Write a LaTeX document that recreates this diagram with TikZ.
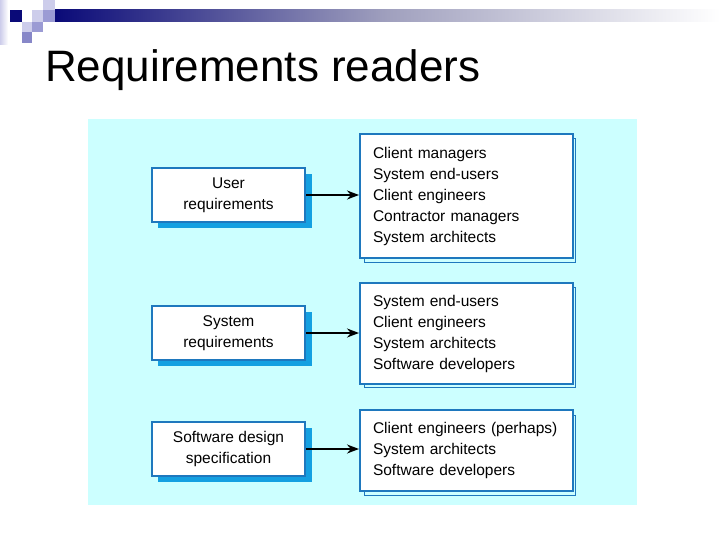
\documentclass[tikz,border=0pt]{standalone}
\usepackage{fontspec}
\setmainfont{Liberation Sans}
\usetikzlibrary{arrows.meta}
\definecolor{panel}{RGB}{204,255,255}
\definecolor{bordblue}{RGB}{30,120,190}
\definecolor{shadblue}{RGB}{20,160,225}
\definecolor{navy}{RGB}{10,10,120}
\definecolor{lightlav}{RGB}{205,205,235}
\definecolor{medlav}{RGB}{155,155,212}
\definecolor{darklav}{RGB}{135,135,200}
\tikzset{
  docbox/.style={draw=bordblue, line width=2pt, fill=white, minimum width=153pt, minimum height=54pt,
    align=center, font=\fontsize{15.5}{21}\selectfont, inner sep=0pt},
  readbox/.style={draw=bordblue, line width=2pt, fill=white, minimum width=213pt,
    align=left, text width=187pt, inner xsep=13pt, inner ysep=0pt, font=\fontsize{15.5}{21}\selectfont},
  flow/.style={line width=1.8pt, -{Stealth[open, length=12pt, width=9pt]}}
}
\begin{document}
\begin{tikzpicture}[x=1pt,y=-1pt]
\useasboundingbox (0,0) rectangle (720,540);
% header decoration
\shade[left color=navy, right color=white, middle color={rgb,255:red,160;green,160;blue,190}] (55,10) rectangle (720,22);
\fill[left color=lightlav, right color=white] (0,0) rectangle (8,45);
\fill[navy] (10,10) rectangle (22,22);
\fill[lightlav] (32,10) rectangle (43,22);
\fill[lightlav] (43,0) rectangle (55,10);
\fill[medlav] (43,10) rectangle (55,22);
\fill[lightlav] (22,22) rectangle (32,32);
\fill[medlav] (32,22) rectangle (43,32);
\fill[darklav] (22,32) rectangle (32,43);
% title
\node[anchor=base west, inner sep=0pt, font=\fontsize{44}{50}\selectfont] (title) at (45,82) {Requirements readers};
% panel
\fill[panel] (88,119) rectangle (637,505);
% left boxes shadows
\fill[shadblue] (158,174) rectangle (312,228);
\fill[shadblue] (158,312) rectangle (312,366);
\fill[shadblue] (158,428) rectangle (312,482);
% right boxes shadows
\draw[bordblue, line width=1pt] (364,139) rectangle (575,262);
\draw[bordblue, line width=1pt] (364,287) rectangle (575,387);
\draw[bordblue, line width=1pt] (364,415) rectangle (575,495);
% left boxes
\node[docbox] (ur) at (228.5,195) {User\\requirements};
\node[docbox] (sr) at (228.5,333) {System\\requirements};
\node[docbox] (sd) at (228.5,449) {Software design\\specification};
% right boxes
\node[readbox, minimum height=124pt] (r1) at (466.5,196) {Client managers\\System end-users\\Client engineers\\Contractor managers\\System architects};
\node[readbox, minimum height=101pt] (r2) at (466.5,333.5) {System end-users\\Client engineers\\System architects\\Software developers};
\node[readbox, minimum height=81pt] (r3) at (466.5,450.5) {Client engineers (perhaps)\\System architects\\Software developers};
% arrows
\draw[flow] (ur.east) -- (ur.east -| r1.west);
\draw[flow] (sr.east) -- (sr.east -| r2.west);
\draw[flow] (sd.east) -- (sd.east -| r3.west);
\end{tikzpicture}
\end{document}
